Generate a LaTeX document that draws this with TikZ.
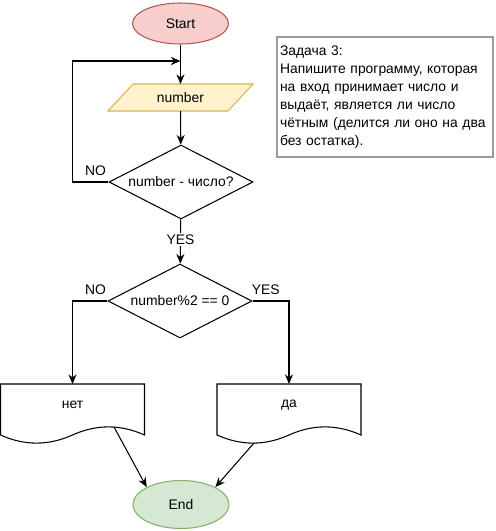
\documentclass[tikz,border=0pt]{standalone}
\usepackage{fontspec}
\setmainfont{Liberation Sans}
\usepackage{tikz}
\usepackage{xcolor}
\usetikzlibrary{shapes,arrows,arrows.meta}

\definecolor{startfill}{HTML}{F8CECC}
\definecolor{startline}{HTML}{B85450}
\definecolor{inpfill}{HTML}{FFF2CC}
\definecolor{inpline}{HTML}{D6B656}
\definecolor{endfill}{HTML}{D5E8D4}
\definecolor{endline}{HTML}{82B366}
\definecolor{taskline}{HTML}{9A9A9A}

\begin{document}
\begin{tikzpicture}[x=0.02cm,y=-0.02cm,
        font=\fontsize{7.9}{10.2}\selectfont,
        line width=0.6pt,
        >={Stealth[length=5.5pt,width=4.6pt]},
        term/.style={ellipse, draw, minimum width=1.92cm, inner sep=0pt},
        decision/.style={diamond, aspect=2, draw, minimum width=2.88cm, minimum height=1.48cm, inner sep=0pt},
        docbox/.style={rectangle, minimum width=2.88cm, minimum height=0.84cm, inner sep=0pt, outer sep=0pt}]
                \useasboundingbox (0,0) rectangle (495,531);

                % Start / End
                \node[term, fill=startfill, draw=startline, minimum height=0.82cm] (start) at (180.5,23.5) {Start};
                \node[term, fill=endfill, draw=endline, minimum height=0.96cm] (end) at (181,504.5) {End};

                % input (parallelogram)
                \node[rectangle, minimum width=2.4cm, minimum height=0.54cm, inner sep=0pt, outer sep=0pt] (inp) at (180.5,97.5) {};
                \filldraw[draw=inpline, fill=inpfill] ([shift={(12.5,0)}]inp.north west) -- ([shift={(12.5,0)}]inp.north east)
                      -- ([shift={(-12.5,0)}]inp.south east) -- ([shift={(-12.5,0)}]inp.south west) -- cycle;
                \node at (inp) {number};

                % decisions
                \node[decision] (isnum) at (181,182) {number - число?};
                \node[decision] (iseven) at (180,301) {number\%2 == 0};

                % outputs (document shapes)
                \node[docbox] (odd) at (72.5,405) {нет};
                \node[docbox] (even) at (289,405) {да};
                \draw (odd.north west) -- (odd.north east) -- ([shift={(0,9)}]odd.south east)
                      .. controls ([shift={(-24,-1.8)}]odd.south east) and ([shift={(-48,-1.8)}]odd.south east) .. ([shift={(0,9)}]odd.south)
                      .. controls ([shift={(-24,19.8)}]odd.south) and ([shift={(-48,19.8)}]odd.south) .. ([shift={(0,9)}]odd.south west) -- cycle;
                \draw (even.north west) -- (even.north east) -- ([shift={(0,9)}]even.south east)
                      .. controls ([shift={(-24,-1.8)}]even.south east) and ([shift={(-48,-1.8)}]even.south east) .. ([shift={(0,9)}]even.south)
                      .. controls ([shift={(-24,19.8)}]even.south) and ([shift={(-48,19.8)}]even.south) .. ([shift={(0,9)}]even.south west) -- cycle;

                % task text
                \node[draw=taskline, minimum width=4.32cm, minimum height=2.4cm, text width=4.2cm, align=left, inner sep=0.06cm] (task) at (385,97)
                      {Задача 3:\\Напишите программу, которая на вход принимает число и выдаёт, является ли число чётным (делится ли оно на два без остатка).};

                % connectors
                \coordinate (loop) at (72.5,61);
                \coordinate (join) at (180.5,61);
                \draw[->] (start) -- (inp);
                \draw[->] (inp) -- (isnum);
                \draw[->] (isnum.west) -| node[pos=0.18, above] {NO} (loop) -- (join);
                \draw[->] (isnum) -- node[fill=white, inner sep=1pt, pos=0.45] {YES} (iseven);
                \draw[->] (iseven.west) -| node[pos=0.17, above] {NO} (odd.north);
                \draw[->] (iseven.east) -| node[pos=0.18, above] {YES} (even.north);
                \draw[->] ([shift={(41.5,1)}]odd.south) -- (end.north west);
                \draw[->] ([shift={(-35,17)}]even.south) -- (end.north east);
\end{tikzpicture}
\end{document}
